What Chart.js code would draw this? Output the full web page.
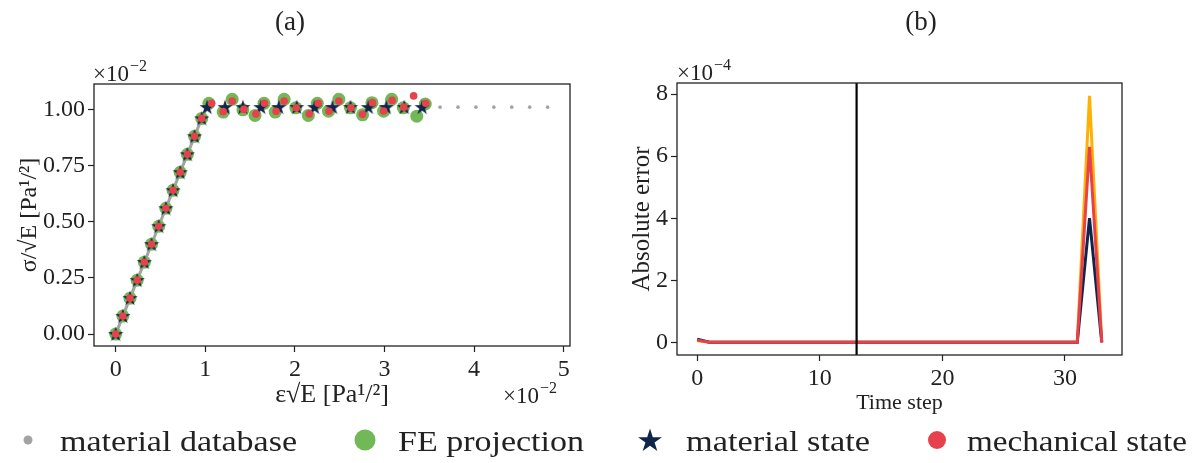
<!DOCTYPE html>
<html>
<head>
<meta charset="utf-8">
<script src="https://cdn.jsdelivr.net/npm/chart.js@4.4.0/dist/chart.umd.min.js"></script>
<style>
  html, body { margin: 0; padding: 0; background: #fff; }
  #wrap { position: relative; width: 1201px; height: 463px; overflow: hidden; }
  #left { position: absolute; left: 0; top: 0; }
  #right { position: absolute; left: 600px; top: 0; }
  #legend { position: absolute; left: 0; top: 415px; }
</style>
</head>
<body>
<div id="wrap">
  <canvas id="left" width="600" height="420"></canvas>
  <canvas id="right" width="601" height="420"></canvas>
  <svg id="legend" width="1201" height="48"></svg>
</div>
<script>
// (a) stress-strain, both axes in units of 1e-2
const dbStrain = [0, 0.08, 0.16, 0.24, 0.32, 0.40, 0.48, 0.56, 0.64, 0.72, 0.80, 0.88, 0.96,
  1.02, 1.22, 1.42, 1.62, 1.82, 2.02, 2.22, 2.42, 2.62, 2.82, 3.02, 3.22, 3.42, 3.62, 3.82, 4.02, 4.22, 4.42, 4.62, 4.82];
const dbStress = [0, 0.08, 0.16, 0.24, 0.32, 0.40, 0.48, 0.56, 0.64, 0.72, 0.80, 0.88, 0.96,
  1.01, 1.01, 1.01, 1.01, 1.01, 1.01, 1.01, 1.01, 1.01, 1.01, 1.01, 1.01, 1.01, 1.01, 1.01, 1.01, 1.01, 1.01, 1.01, 1.01];

const matStrain = [0, 0.08, 0.16, 0.24, 0.32, 0.40, 0.48, 0.56, 0.64, 0.72, 0.80, 0.88, 0.96,
  1.02, 1.22, 1.42, 1.62, 1.82, 2.02, 2.22, 2.42, 2.62, 2.82, 3.02, 3.22, 3.42];
const matStress = [0, 0.08, 0.16, 0.24, 0.32, 0.40, 0.48, 0.56, 0.64, 0.72, 0.80, 0.88, 0.96,
  1.01, 1.01, 1.01, 1.01, 1.01, 1.01, 1.01, 1.01, 1.01, 1.01, 1.01, 1.01, 1.01];

const feStrain = [0, 0.08, 0.16, 0.24, 0.32, 0.40, 0.48, 0.56, 0.64, 0.72, 0.80, 0.88, 0.96,
  1.04, 1.20, 1.30, 1.42, 1.555, 1.655, 1.78, 1.88, 2.01, 2.15, 2.25, 2.375, 2.49, 2.62, 2.755, 2.86, 2.99, 3.08, 3.21, 3.36, 3.455];
const feStress = [0, 0.08, 0.16, 0.24, 0.32, 0.40, 0.48, 0.56, 0.64, 0.72, 0.80, 0.88, 0.96,
  1.027, 0.988, 1.045, 0.998, 0.973, 1.027, 0.988, 1.045, 1.007, 0.973, 1.027, 0.992, 1.045, 1.007, 0.976, 1.03, 0.992, 1.045, 1.007, 0.97, 1.024];

const mechStrain = [0, 0.08, 0.16, 0.24, 0.32, 0.40, 0.48, 0.56, 0.64, 0.72, 0.80, 0.88, 0.96,
  1.07, 1.20, 1.30, 1.43, 1.565, 1.66, 1.79, 1.88, 2.015, 2.16, 2.26, 2.38, 2.49, 2.625, 2.755, 2.865, 2.99, 3.085, 3.215, 3.325, 3.46];
const mechStress = [0, 0.08, 0.16, 0.24, 0.32, 0.40, 0.48, 0.56, 0.64, 0.72, 0.80, 0.88, 0.96,
  1.027, 0.99, 1.037, 1.0, 0.98, 1.027, 0.992, 1.037, 1.007, 0.98, 1.027, 0.992, 1.037, 1.007, 0.978, 1.03, 0.993, 1.04, 1.01, 1.06, 1.027];

const leftXTicks = [0, 1, 2, 3, 4, 5];
const leftYTicks = [0, 0.25, 0.5, 0.75, 1.0];

// (b) absolute error per time step, units of 1e-4
const timeSteps = [0, 1, 2, 3, 4, 5, 6, 7, 8, 9, 10, 11, 12, 13, 14, 15, 16,
  17, 18, 19, 20, 21, 22, 23, 24, 25, 26, 27, 28, 29, 30, 31, 32, 33];
const errProjection = [0.05, 0, 0, 0, 0, 0, 0, 0, 0, 0, 0, 0, 0, 0, 0, 0, 0,
  0, 0, 0, 0, 0, 0, 0, 0, 0, 0, 0, 0, 0, 0, 0, 7.95, 0];
const errMaterial = [0.1, 0, 0, 0, 0, 0, 0, 0, 0, 0, 0, 0, 0, 0, 0, 0, 0,
  0, 0, 0, 0, 0, 0, 0, 0, 0, 0, 0, 0, 0, 0, 0, 4.0, 0];
const errMechanical = [0.07, 0, 0, 0, 0, 0, 0, 0, 0, 0, 0, 0, 0, 0, 0, 0, 0,
  0, 0, 0, 0, 0, 0, 0, 0, 0, 0, 0, 0, 0, 0, 0, 6.3, 0];
const switchStep = 13;

const rightXTicks = [0, 10, 20, 30];
const rightYTicks = [0, 2, 4, 6, 8];

const GREY = '#a3a3a3', GREEN = '#72b856', NAVY = '#10254a', RED = '#e8414e', YELLOW = '#ffb000';
const FONT = '"Liberation Serif", serif';
const INK = '#222';

Chart.defaults.font.family = FONT;
Chart.defaults.color = INK;

function zip(xs, ys) { return xs.map((x, i) => ({x: x, y: ys[i]})); }

function starPath(cx, cy, R) {
  const pts = [];
  for (let i = 0; i < 10; i++) {
    const r = i % 2 ? R * 0.382 : R;
    const a = -Math.PI / 2 + i * Math.PI / 5;
    pts.push([cx + r * Math.cos(a), cy + r * Math.sin(a)]);
  }
  return pts;
}

function starCanvas(R, color) {
  const c = document.createElement('canvas');
  const s = Math.ceil(R * 2 + 2);
  c.width = s; c.height = s;
  const g = c.getContext('2d');
  g.fillStyle = color;
  g.beginPath();
  starPath(s / 2, s / 2 + 0.5, R).forEach((p, i) => i ? g.lineTo(p[0], p[1]) : g.moveTo(p[0], p[1]));
  g.closePath();
  g.fill();
  return c;
}

function drawMult(ctx, x, y, exp) {
  ctx.textAlign = 'left';
  ctx.textBaseline = 'alphabetic';
  ctx.font = '23px ' + FONT;
  ctx.fillText('×10', x, y);
  const w = ctx.measureText('×10').width;
  ctx.font = '16px ' + FONT;
  ctx.fillText('−' + exp, x + w + 1, y - 10);
}

const decorations = {
  id: 'decorations',
  afterDatasetsDraw(chart, args, o) {
    if (o.vline == null) return;
    const {ctx, chartArea: a} = chart;
    const px = chart.scales.x.getPixelForValue(o.vline);
    ctx.save();
    ctx.strokeStyle = '#000';
    ctx.lineWidth = 2.2;
    ctx.beginPath();
    ctx.moveTo(px, a.top);
    ctx.lineTo(px, a.bottom);
    ctx.stroke();
    ctx.restore();
  },
  afterDraw(chart, args, o) {
    const {ctx, chartArea: a} = chart;
    ctx.save();
    ctx.strokeStyle = INK;
    ctx.lineWidth = 1.3;
    ctx.strokeRect(a.left, a.top, a.right - a.left, a.bottom - a.top);
    ctx.fillStyle = INK;
    ctx.font = '27px ' + FONT;
    ctx.textAlign = 'center';
    ctx.textBaseline = 'alphabetic';
    ctx.fillText(o.title, o.titleX, 30);
    o.mult.forEach(m => drawMult(ctx, m.x, m.y, m.exp));
    ctx.restore();
  }
};

function axis(min, max, ticks, fmt, title, titlePad, titleSize, fit) {
  return {
    type: 'linear',
    min: min,
    max: max,
    afterBuildTicks: s => { s.ticks = ticks.map(v => ({value: v})); },
    afterFit: fit,
    ticks: {callback: fmt, font: {size: 24}, padding: 3, maxRotation: 0, autoSkip: false},
    grid: {drawOnChartArea: false, drawTicks: true, tickLength: 6, tickColor: INK, tickWidth: 1.2},
    border: {display: false},
    title: {display: true, text: title, font: {size: titleSize}, padding: titlePad}
  };
}

new Chart('left', {
  type: 'scatter',
  data: {
    datasets: [
      {
        label: 'material database',
        data: zip(dbStrain, dbStress),
        showLine: true,
        borderWidth: 3,
        borderColor: GREY,
        segment: {borderColor: c => c.p1.parsed.x <= 1.03 ? GREY : 'rgba(0,0,0,0)'},
        pointRadius: 1.8,
        pointBorderWidth: 0,
        pointBackgroundColor: GREY,
        order: 4
      },
      {
        label: 'FE projection',
        data: zip(feStrain, feStress),
        pointRadius: 6.5,
        pointBorderWidth: 0,
        pointBackgroundColor: GREEN,
        order: 3
      },
      {
        label: 'material state',
        data: zip(matStrain, matStress),
        pointStyle: starCanvas(8, NAVY),
        pointRadius: 8,
        order: 2
      },
      {
        label: 'mechanical state',
        data: zip(mechStrain, mechStress),
        pointRadius: 3.8,
        pointBorderWidth: 0,
        pointBackgroundColor: RED,
        order: 1
      }
    ]
  },
  options: {
    responsive: false,
    animation: false,
    events: [],
    layout: {padding: {left: 0, top: 84, right: 30, bottom: 0}},
    plugins: {
      legend: {display: false},
      tooltip: {enabled: false},
      decorations: {
        title: '(a)', titleX: 290,
        mult: [{x: 93, y: 81, exp: '2'}, {x: 503, y: 403, exp: '2'}]
      }
    },
    scales: {
      x: axis(-0.242, 5.07, leftXTicks, v => String(v), 'ε√E [Pa¹/²]', {top: 0, bottom: 9}, 26,
        s => { s.height = 74; }),
      y: axis(-0.053, 1.113, leftYTicks, v => v.toFixed(2), 'σ/√E [Pa¹/²]', {top: 15, bottom: 0}, 24,
        s => { s.width = 94; })
    }
  },
  plugins: [decorations]
});

function errLine(label, values, color, order) {
  return {
    label: label,
    data: zip(timeSteps, values),
    showLine: true,
    borderColor: color,
    borderWidth: 3,
    pointRadius: 0,
    order: order
  };
}

new Chart('right', {
  type: 'scatter',
  data: {
    datasets: [
      errLine('FE projection', errProjection, YELLOW, 3),
      errLine('material state', errMaterial, NAVY, 2),
      errLine('mechanical state', errMechanical, RED, 1)
    ]
  },
  options: {
    responsive: false,
    animation: false,
    events: [],
    layout: {padding: {left: 0, top: 83, right: 79, bottom: 0}},
    plugins: {
      legend: {display: false},
      tooltip: {enabled: false},
      decorations: {
        title: '(b)', titleX: 321, vline: switchStep,
        mult: [{x: 77, y: 80, exp: '4'}]
      }
    },
    scales: {
      x: axis(-1.65, 34.65, rightXTicks, v => String(v), 'Time step', {top: 0, bottom: 4}, 22,
        s => { s.height = 65; }),
      y: axis(-0.41, 8.36, rightYTicks, v => String(v), 'Absolute error', {top: 27, bottom: 0}, 25,
        s => { s.width = 77; })
    }
  },
  plugins: [decorations]
});

// shared legend below both panels
const legendItems = [
  {label: 'material database', shape: 'dot', size: 4.5, color: GREY, cx: 28, tx: 60, tw: 237},
  {label: 'FE projection', shape: 'dot', size: 10.5, color: GREEN, cx: 365, tx: 398, tw: 186},
  {label: 'material state', shape: 'star', size: 12.5, color: NAVY, cx: 650, tx: 686, tw: 184},
  {label: 'mechanical state', shape: 'dot', size: 9, color: RED, cx: 937, tx: 967, tw: 220}
];
const svgNS = 'http://www.w3.org/2000/svg';
const legend = document.getElementById('legend');
legendItems.forEach(it => {
  let m;
  if (it.shape === 'star') {
    m = document.createElementNS(svgNS, 'polygon');
    m.setAttribute('points', starPath(it.cx, 26, it.size).map(p => p.join(',')).join(' '));
  } else {
    m = document.createElementNS(svgNS, 'circle');
    m.setAttribute('cx', it.cx);
    m.setAttribute('cy', 25);
    m.setAttribute('r', it.size);
  }
  m.setAttribute('fill', it.color);
  legend.appendChild(m);
  const t = document.createElementNS(svgNS, 'text');
  t.setAttribute('x', it.tx);
  t.setAttribute('y', 36);
  t.setAttribute('font-family', 'Liberation Serif, serif');
  t.setAttribute('font-size', '30');
  t.setAttribute('fill', INK);
  t.setAttribute('textLength', it.tw);
  t.setAttribute('lengthAdjust', 'spacingAndGlyphs');
  t.textContent = it.label;
  legend.appendChild(t);
});
</script>
</body>
</html>
